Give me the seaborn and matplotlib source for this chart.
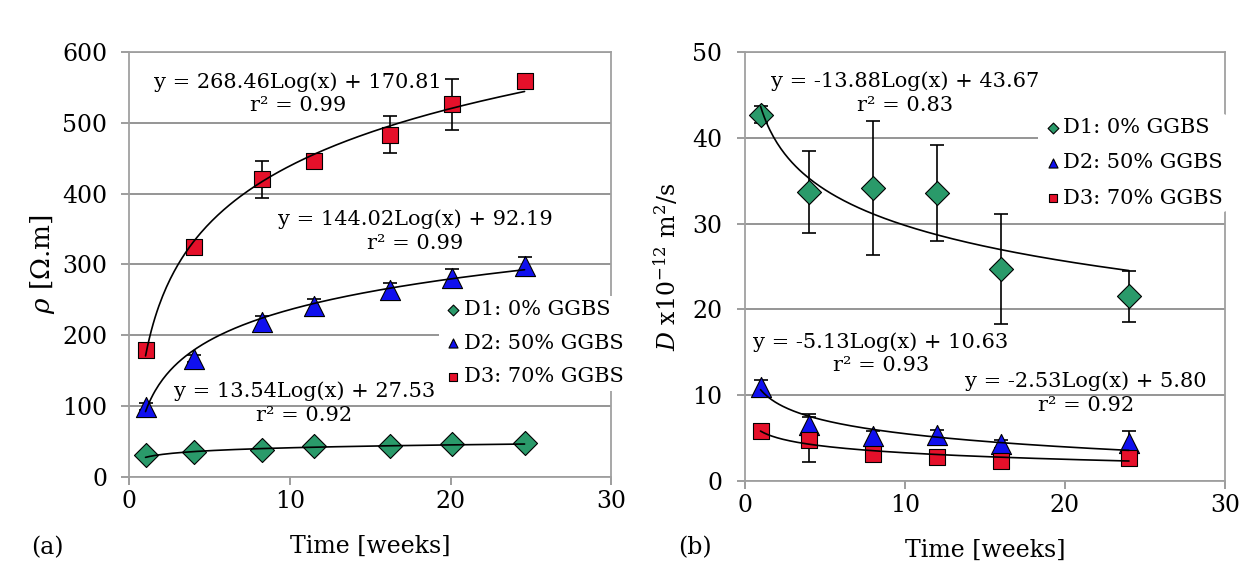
import numpy as np
import pandas as pd
import matplotlib
matplotlib.use("Agg")
import matplotlib.pyplot as plt
import seaborn as sns

# data
labels = ["D1: 0% GGBS", "D2: 50% GGBS", "D3: 70% GGBS"]
colors = ["#2a9a6a", "#1010ee", "#e5102a"]
markers = ["D", "^", "s"]
sizes = [150, 210, 140]

# (a) resistivity
weeks_a = [1, 4, 8.25, 11.5, 16.2, 20.1, 24.6]
rho_d1 = [31, 35, 38, 43, 44, 46, 48]
rho_d2 = [99, 167, 219, 241, 264, 281, 298]
rho_d3 = [179, 325, 420, 446, 483, 526, 559]
rho_err_d1 = [3, 3, 3, 3, 3, 3, 3]
rho_err_d2 = [5, 5, 8, 10, 10, 13, 12]
rho_err_d3 = [5, 5, 26, 5, 26, 36, 5]
fit_a = [(13.54, 27.53), (144.02, 92.19), (268.46, 170.81)]
eq_a = ["y = 13.54Log(x) + 27.53\nr² = 0.92",
        "y = 144.02Log(x) + 92.19\nr² = 0.99",
        "y = 268.46Log(x) + 170.81\nr² = 0.99"]
eq_a_pos = [(10.9, 104), (17.8, 347), (10.5, 541)]

# (b) diffusion coefficient
weeks_b = [1, 4, 8, 12, 16, 24]
diff_d1 = [42.7, 33.7, 34.1, 33.6, 24.7, 21.5]
diff_d2 = [10.9, 6.5, 5.2, 5.3, 4.3, 4.4]
diff_d3 = [5.8, 4.8, 3.1, 2.8, 2.3, 2.7]
diff_err_d1 = [1.0, 4.8, 7.8, 5.6, 6.4, 3.0]
diff_err_d2 = [0.8, 1.3, 0.6, 0.6, 0.5, 1.4]
diff_err_d3 = [0.5, 2.6, 0.4, 0.4, 0.4, 0.5]
fit_b = [(-13.88, 43.67), (-5.13, 10.63), (-2.53, 5.80)]
eq_b = ["y = -13.88Log(x) + 43.67\nr² = 0.83",
        "y = -5.13Log(x) + 10.63\nr² = 0.93",
        "y = -2.53Log(x) + 5.80\nr² = 0.92"]
eq_b_pos = [(10.0, 45.2), (8.5, 14.8), (21.3, 10.2)]

sns.set_theme(style="white")
plt.rcParams["font.family"] = ["DejaVu Serif"]
plt.rcParams["mathtext.fontset"] = "dejavuserif"
plt.rcParams["text.color"] = "black"
plt.rcParams["axes.labelcolor"] = "black"
plt.rcParams["xtick.labelcolor"] = "black"
plt.rcParams["ytick.labelcolor"] = "black"

fig = plt.figure(figsize=(12.45, 5.65), dpi=100)
ax1 = fig.add_axes([0.104, 0.156, 0.387, 0.752])
ax2 = fig.add_axes([0.598, 0.149, 0.386, 0.759])


def draw_panel(ax, x, ys, errs, fits, eqs, eq_pos):
    for i in range(3):
        ax.errorbar(x, ys[i], yerr=errs[i], fmt="none", ecolor="black",
                    elinewidth=1.2, capsize=5, capthick=1.2, zorder=2)
        sns.scatterplot(x=x, y=ys[i], ax=ax, marker=markers[i], s=sizes[i],
                        color=colors[i], edgecolor="black", linewidth=0.8,
                        label=labels[i], zorder=3)
        a, b = fits[i]
        xt = np.linspace(x[0], x[-1], 200)
        trend = pd.DataFrame({"x": xt, "y": a * np.log10(xt) + b})
        sns.lineplot(data=trend, x="x", y="y", ax=ax, color="black",
                     linewidth=1.2, zorder=4, legend=False)
        ax.text(eq_pos[i][0], eq_pos[i][1], eqs[i], ha="center", va="center",
                fontsize=15, linespacing=1.3, zorder=5)


def style_axes(ax, ymax, ystep):
    ax.set_xlim(0, 30)
    ax.set_ylim(0, ymax)
    ax.set_xticks([0, 10, 20, 30])
    ax.set_yticks(np.arange(0, ymax + 1, ystep))
    ax.yaxis.grid(True, color="#8c8c8c", linewidth=1.3)
    ax.set_axisbelow(True)
    for s in ax.spines.values():
        s.set_color("#a0a0a0")
        s.set_linewidth(1.3)
    ax.tick_params(axis="both", labelsize=17, length=6, color="#8c8c8c",
                   width=1.2, direction="out", left=True, bottom=True)
    ax.tick_params(axis="y", pad=10)
    ax.set_xlabel("Time [weeks]", fontsize=17, labelpad=16)


draw_panel(ax1, weeks_a, [rho_d1, rho_d2, rho_d3],
           [rho_err_d1, rho_err_d2, rho_err_d3], fit_a, eq_a, eq_a_pos)
style_axes(ax1, 600, 100)
ax1.set_ylabel(r"$\rho$ [Ω.m]", fontsize=19, labelpad=4)

draw_panel(ax2, weeks_b, [diff_d1, diff_d2, diff_d3],
           [diff_err_d1, diff_err_d2, diff_err_d3], fit_b, eq_b, eq_b_pos)
style_axes(ax2, 50, 10)
ax2.set_ylabel(r"$D$ x10$^{-12}$ m$^2$/s", fontsize=17, labelpad=8)

for ax, anchor, sp in [(ax1, (0.62, 0.45), 0.7), (ax2, (0.59, 0.88), 0.78)]:
    leg = ax.legend(loc="upper left", bbox_to_anchor=anchor, fontsize=15,
                    markerscale=0.45, handletextpad=0.0, labelspacing=sp,
                    borderpad=0.2, handlelength=1.0, frameon=True,
                    facecolor="white", edgecolor="none", framealpha=1)
    leg.set_zorder(6)

fig.text(0.025, 0.03, "(a)", fontsize=17, ha="left", va="center")
fig.text(0.545, 0.03, "(b)", fontsize=17, ha="left", va="center")

fig.savefig("out.png", dpi=100, facecolor="white")
